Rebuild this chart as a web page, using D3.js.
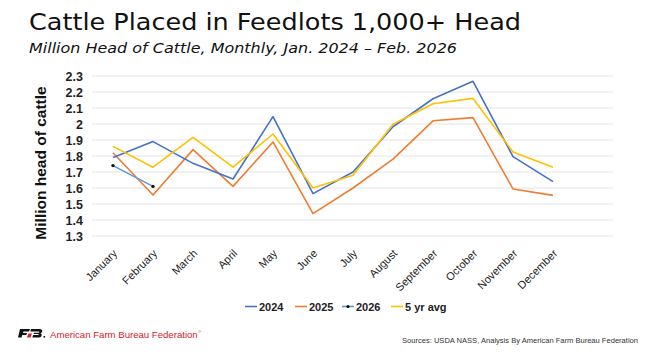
<!DOCTYPE html>
<html><head><meta charset="utf-8">
<script src="https://cdn.jsdelivr.net/npm/d3@7"></script>
<style>body{margin:0;background:#fff}svg{display:block}</style>
</head><body><svg id="c" width="661" height="362"></svg>
<script>
const months = ["January","February","March","April","May","June","July","August","September","October","November","December"];
const y2024 = [1.79,1.89,1.754,1.656,2.046,1.565,1.70,1.983,2.158,2.267,1.796,1.64];
const y2025 = [1.82,1.556,1.84,1.61,1.888,1.44,1.60,1.78,2.02,2.04,1.594,1.554];
const y2026 = [1.74,1.61];
const avg5 = [1.86,1.73,1.917,1.73,1.9375,1.60,1.68,1.998,2.127,2.16,1.825,1.73];
const yTicks = [1.3,1.4,1.5,1.6,1.7,1.8,1.9,2,2.1,2.2,2.3];
const seriesNames = ["2024","2025","2026","5 yr avg"];
const colors = ["#4472C4","#ED7D31","#5B9BD5","#FFC000"];

const svg = d3.select("#c");
const pL = 93, pR = 613, pT = 76, pB = 236;
const x = d3.scaleBand().domain(months.concat(["_"])).range([pL, pR]);
const y = d3.scaleLinear().domain([1.3, 2.3]).range([pB, pT]);
const cx = m => x(m) + x.bandwidth()/2;

// title
svg.append("text").attr("x",29).attr("y",30).attr("font-family","DejaVu Sans").attr("font-size",22.5).attr("fill","#111")
  .attr("textLength",492).attr("lengthAdjust","spacingAndGlyphs")
  .text("Cattle Placed in Feedlots 1,000+ Head");
svg.append("text").attr("x",29).attr("y",52.5).attr("font-family","DejaVu Sans").attr("font-style","italic").attr("font-size",13.5).attr("fill","#111")
  .attr("textLength",428).attr("lengthAdjust","spacingAndGlyphs")
  .text("Million Head of Cattle, Monthly, Jan. 2024 \u2013 Feb. 2026");

// gridlines
svg.append("g").selectAll("line").data(yTicks).join("line")
  .attr("x1",pL-1).attr("x2",pR).attr("y1",d=>y(d)).attr("y2",d=>y(d))
  .attr("stroke","#e4e4e4").attr("stroke-width",1);

// y axis
const ya = svg.append("g").attr("transform",`translate(${pL-1},0)`)
  .call(d3.axisLeft(y).tickValues(yTicks).tickSize(0).tickPadding(9).tickFormat(d=>d3.format("")(d)));
ya.select(".domain").remove();
ya.selectAll("text").attr("font-family","Liberation Sans").attr("font-weight","bold").attr("font-size",12.5).attr("fill","#222");

// x axis
const xa = svg.append("g").attr("transform",`translate(0,${pB})`)
  .call(d3.axisBottom(x).tickValues(months).tickSize(0).tickPadding(0));
xa.select(".domain").remove();
xa.selectAll("text").attr("font-family","Liberation Sans").attr("font-size",11).attr("fill","#222")
  .attr("text-anchor","end").attr("dy",0)
  .attr("transform","translate(5,18) rotate(-45)");

svg.append("text").attr("transform",`translate(45.5,163) rotate(-90)`).attr("text-anchor","middle")
  .attr("font-family","Liberation Sans").attr("font-weight","bold").attr("font-size",15.5).attr("fill","#111")
  .text("Million head of cattle");

const line = d3.line().x((d,i)=>cx(months[i])).y(d=>y(d));
const data = [y2024, y2025, y2026, avg5];
[1,0,3,2].forEach(k=>{
  svg.append("path").attr("d",line(data[k])).attr("fill","none").attr("stroke",colors[k]).attr("stroke-width",1.6).attr("stroke-linejoin","round");
});
svg.append("g").selectAll("circle").data(y2026).join("circle")
  .attr("cx",(d,i)=>cx(months[i])).attr("cy",d=>y(d)).attr("r",1.7).attr("fill","#111");

// legend
const lg = svg.append("g");
const lx = [245,295,342,391];
seriesNames.forEach((n,i)=>{
  lg.append("line").attr("x1",lx[i]).attr("x2",lx[i]+12).attr("y1",306.5).attr("y2",306.5).attr("stroke",colors[i]).attr("stroke-width",1.6);
  if(i===2) lg.append("circle").attr("cx",lx[i]+6).attr("cy",306.5).attr("r",1.6).attr("fill","#111");
  lg.append("text").attr("x",lx[i]+14).attr("y",310.5).attr("font-family","Liberation Sans").attr("font-weight","bold").attr("font-size",11).attr("fill","#222").text(n);
});

// logo
const logo = svg.append("g").attr("transform","translate(18,329)");
logo.append("path").attr("d","M2,0 L12,0 L11,2.5 L5.5,2.5 L5,4 L9,4 L8.3,6 L4.3,6 L3.5,8.5 L0,8.5 Z").attr("fill","#111");
logo.append("path").attr("d","M10.5,4.5 L14,4.5 L12.5,8.5 L9,8.5 Z").attr("fill","#d2232a");
logo.append("path").attr("d","M13,0 L22,0 Q25,0.5 24,3 Q23.5,4 22.5,4.2 Q24.3,5 23.5,7 Q22.8,8.5 20.5,8.5 L14.3,8.5 L15.2,6 L19.8,6 Q20.7,6 20.8,5.5 Q21,5 20.2,5 L15.6,5 L16,3.8 L20.6,3.8 Q21.4,3.6 21.5,3 Q21.4,2.5 20.6,2.5 L16.2,2.5 L12.3,2.5 Z").attr("fill","#111");
logo.append("rect").attr("x",25.5).attr("y",7).attr("width",1.6).attr("height",1.6).attr("fill","#111");
const red = svg.append("text").attr("x",50).attr("y",337.5).attr("font-family","Liberation Sans").attr("font-size",9.6).attr("fill","#d2232a");
red.append("tspan").text("American Farm Bureau Federation");
red.append("tspan").attr("font-size",4).attr("dy",-5).attr("dx",0.5).text("\u00AE");

svg.append("text").attr("x",402).attr("y",343).attr("font-family","Liberation Sans").attr("font-size",7.6).attr("fill","#333")
  .attr("textLength",236).attr("lengthAdjust","spacingAndGlyphs")
  .text("Sources: USDA NASS, Analysis By American Farm Bureau Federation");
</script></body></html>
